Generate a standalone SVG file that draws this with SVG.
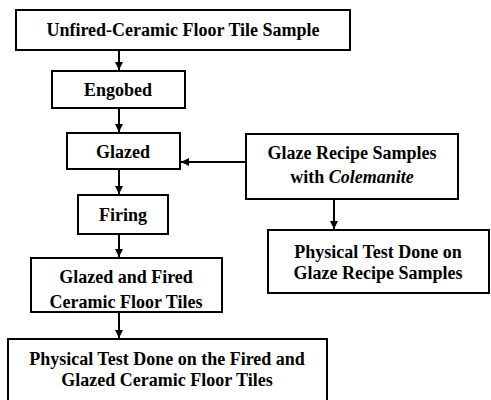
<svg xmlns="http://www.w3.org/2000/svg" width="491" height="400" viewBox="0 0 491 400">
<defs>
<marker id="ah" markerWidth="10" markerHeight="10" refX="9" refY="5" orient="auto" markerUnits="userSpaceOnUse">
<path d="M1,1 L9,5 L1,9 Z" fill="#000"/>
</marker>
<style>
rect{fill:#fff;stroke:#000;stroke-width:2}
text{font-family:"Liberation Serif","Times New Roman",serif;font-size:18px;font-weight:bold;text-anchor:middle;fill:#000}
.it{font-style:italic}
.c line{stroke:#000;stroke-width:2;marker-end:url(#ah)}
</style>
</defs>
<rect x="0" y="0" width="491" height="400" style="fill:#fff;stroke:none"/>
<g class="c" id="connectors">
<line x1="119" y1="50" x2="119" y2="70"/>
<line x1="119" y1="108" x2="119" y2="132"/>
<line x1="119" y1="169" x2="119" y2="194"/>
<line x1="119" y1="234" x2="119" y2="257"/>
<line x1="119" y1="312" x2="119" y2="338"/>
<line x1="246" y1="162" x2="181" y2="162"/>
<line x1="334" y1="199" x2="334" y2="229"/>
</g>
<g id="n1"><rect x="16" y="10" width="334" height="40"/><text x="183" y="36">Unfired-Ceramic Floor Tile Sample</text></g>
<g id="n2"><rect x="52" y="71" width="133" height="37"/><text x="118" y="96">Engobed</text></g>
<g id="n3"><rect x="67" y="133" width="113" height="36"/><text x="123" y="158">Glazed</text></g>
<g id="n4"><rect x="78" y="195" width="90" height="39"/><text x="123" y="221">Firing</text></g>
<g id="n5"><rect x="31" y="258" width="191" height="54"/><text x="126" y="283">Glazed and Fired</text><text x="126" y="308">Ceramic Floor Tiles</text></g>
<g id="n6"><rect x="8" y="339" width="319" height="72"/><text x="167" y="365">Physical Test Done on the Fired and</text><text x="167" y="386">Glazed Ceramic Floor Tiles</text></g>
<g id="n7"><rect x="246" y="134" width="212" height="65"/><text x="352" y="159">Glaze Recipe Samples</text><text x="352" y="183">with <tspan class="it">Colemanite</tspan></text></g>
<g id="n8"><rect x="268" y="230" width="221" height="63"/><text x="378" y="258">Physical Test Done on</text><text x="378" y="279">Glaze Recipe Samples</text></g>
</svg>
